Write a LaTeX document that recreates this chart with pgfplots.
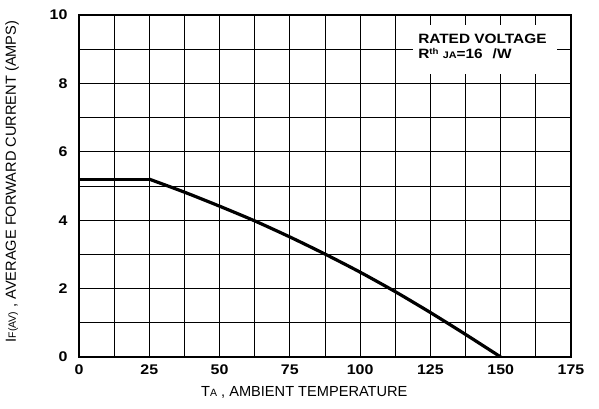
\documentclass[border=0pt]{standalone}
\usepackage{fontspec}
\setmainfont{Liberation Sans}
\newfontfamily\tickfont{Liberation Sans}[FakeStretch=1.14]
\usepackage{pgfplots}
\pgfplotsset{compat=1.18}
\begin{document}
\begin{tikzpicture}
\begin{axis}[
 scale only axis, width=492pt, height=342pt,
 xmin=0, xmax=175, ymin=0, ymax=10,
 xtick={0,25,...,175}, minor xtick={12.5,37.5,...,162.5},
 ytick={0,2,...,10}, minor ytick={1,3,...,9},
 grid=both,
 grid style={black, line width=0.9pt},
 minor grid style={black, line width=0.9pt},
 major grid style={black, line width=0.9pt},
 major tick length=0pt, minor tick length=0pt,
 axis line style={line width=1.4pt},
 /pgf/number format/assume math mode=true,
 ticklabel style={font=\tickfont\bfseries\fontsize{14}{16}\selectfont},
 xticklabel style={yshift=-4pt},
 yticklabel style={xshift=-8pt},
 xlabel={T{\fontsize{10.5}{12}\selectfont A} , AMBIENT TEMPERATURE},
 ylabel={I{\fontsize{10.5}{12}\selectfont F(AV)} , AVERAGE FORWARD CURRENT (AMPS)},
 label style={font=\fontsize{14.6}{17}\selectfont},
 xlabel style={at={(axis description cs:0.458,-0.105)}, anchor=center},
 ylabel style={at={(axis description cs:-0.136,0.513)}, anchor=center},
]
\fill[white] (axis cs:118.8,9.72) rectangle (axis cs:170,8.28);
\node[anchor=base west, inner sep=0pt, font=\tickfont\bfseries\fontsize{13.5}{15}\selectfont] at (axis cs:120.6,9.18) {RATED VOLTAGE};
\node[anchor=base west, inner sep=0pt, font=\tickfont\bfseries\fontsize{13.5}{15}\selectfont] at (axis cs:120.6,8.74) {R\raisebox{4pt}{\fontsize{8.5}{10}\selectfont th} {\fontsize{9.5}{11}\selectfont JA}=16\hspace{10pt}/W};
\addplot[black, line width=3.2pt, line cap=round] coordinates {
 (0,5.2) (25,5.2)
};
\addplot[black, line width=3.2pt, smooth, tension=0.4] coordinates {
 (25,5.2) (37.5,4.82) (50,4.41) (62.5,3.98) (75,3.51) (87.5,3.01)
 (100,2.48) (112.5,1.91) (125,1.30) (137.5,0.66) (150,0)
};
\end{axis}
\path ([shift={(-79pt,-52pt)}]current axis.south west) rectangle ([shift={(28pt,15pt)}]current axis.north east);
\end{tikzpicture}
\end{document}
